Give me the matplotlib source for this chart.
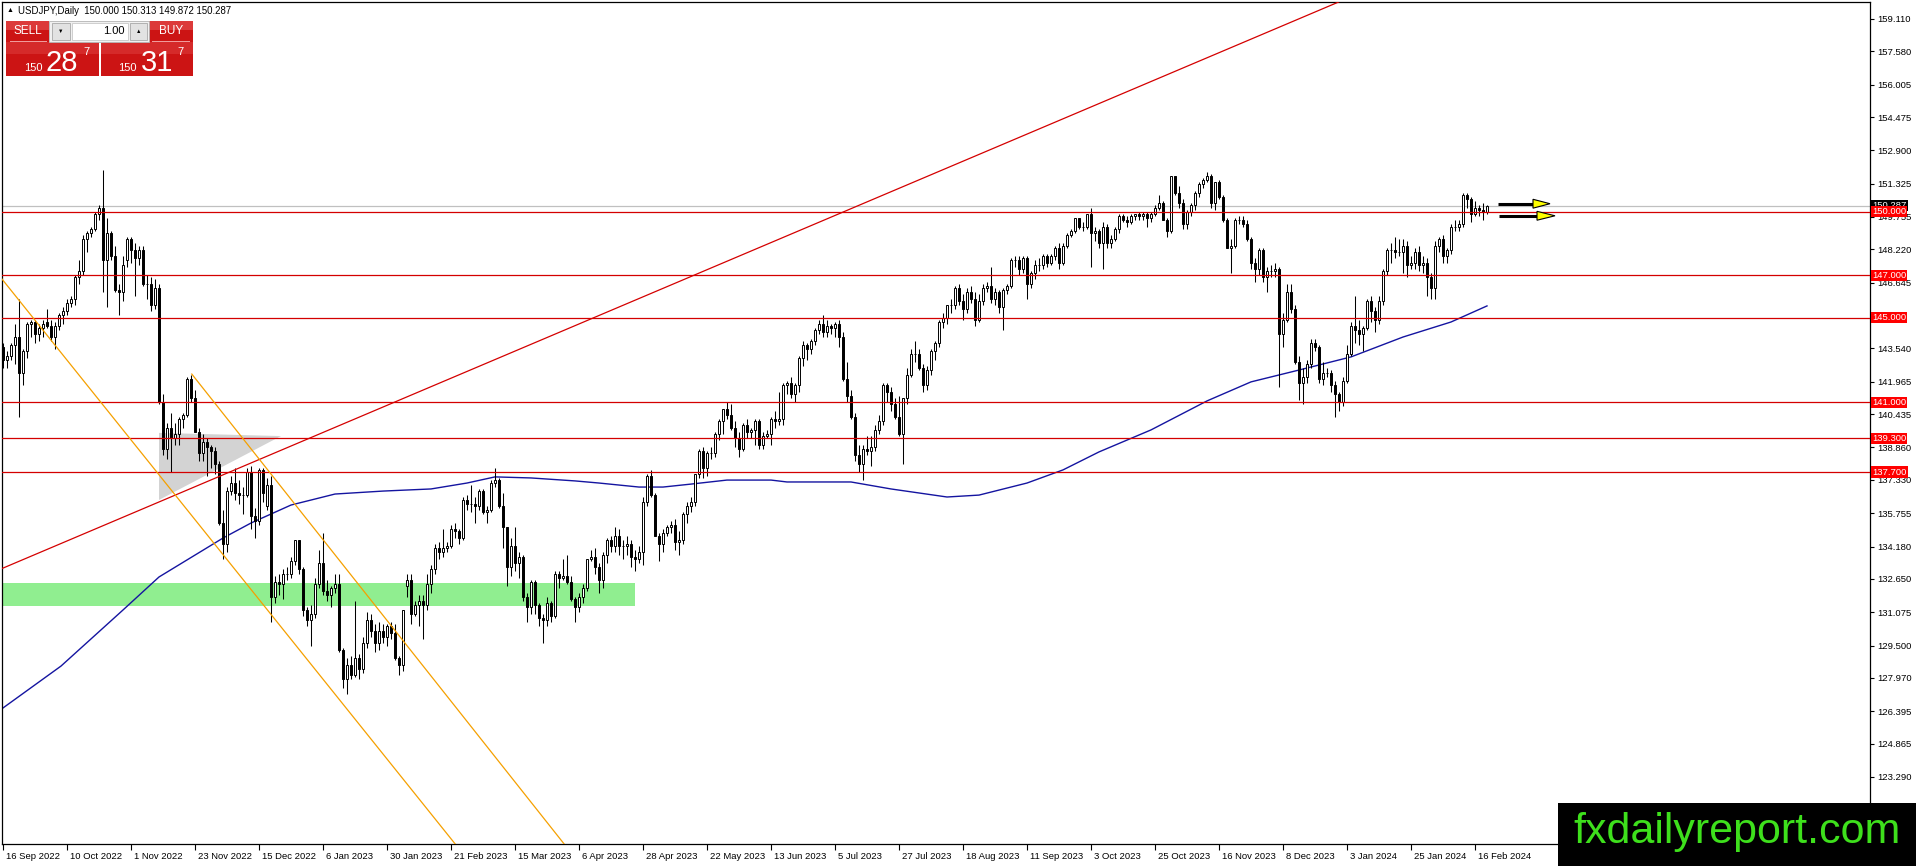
import matplotlib
matplotlib.use("Agg")
import matplotlib.pyplot as plt
from matplotlib.patches import Rectangle, Polygon
import matplotlib.transforms as mtransforms

plt.rcParams['font.family'] = ['Liberation Sans', 'DejaVu Sans']

# ---------------- data ----------------
# USDJPY daily candles, 16 Sep 2022 .. 21 Feb 2024 (bar index 0..371)
opens = [
    143.6, 143.0, 143.2, 143.7, 144.1, 142.4, 143.4, 144.7, 144.8, 144.2,
    144.5, 144.8, 144.6, 144.1, 144.6, 145.1, 145.3, 145.7, 145.9, 146.9,
    147.2, 148.7, 149.0, 149.2, 149.9, 150.2, 147.7, 149.0, 147.9, 146.3,
    146.2, 147.7, 148.7, 148.2, 147.8, 148.2, 146.6, 146.6, 145.6, 146.4,
    141.0, 138.8, 139.8, 139.3, 139.5, 140.2, 140.4, 142.1, 141.2, 139.6,
    138.6, 139.1, 138.9, 138.7, 138.1, 135.3, 134.3, 136.8, 137.2, 136.7,
    136.6, 136.6, 137.7, 135.6, 135.4, 137.8, 136.1, 137.1, 131.8, 132.5,
    132.4, 132.9, 132.9, 133.5, 134.5, 133.1, 131.2, 130.7, 131.0, 132.4,
    133.4, 132.1, 131.9, 132.2, 132.4, 129.3, 127.9, 128.6, 128.1, 128.9,
    128.4, 129.6, 130.7, 130.2, 129.6, 130.2, 129.9, 130.4, 130.1, 128.9,
    128.6, 132.3, 132.6, 131.0, 131.4, 131.6, 131.4, 132.4, 133.1, 134.1,
    133.9, 134.1, 134.2, 135.0, 134.9, 134.6, 136.4, 136.2, 136.2, 136.1,
    136.8, 135.8, 135.9, 137.2, 137.3, 136.1, 135.1, 133.2, 134.2, 133.4,
    133.7, 131.8, 131.3, 132.5, 131.4, 130.8, 130.7, 131.5, 130.9, 132.9,
    132.7, 132.8, 132.5, 131.7, 131.3, 131.8, 132.2, 133.6, 133.7, 133.2,
    132.6, 133.8, 134.5, 134.2, 134.7, 134.2, 134.2, 134.3, 133.7, 133.6,
    133.9, 136.3, 137.5, 136.6, 134.7, 134.3, 134.8, 135.1, 135.2, 134.4,
    134.5, 135.7, 136.1, 136.3, 137.6, 138.7, 137.9, 138.6, 138.6, 139.5,
    140.1, 140.7, 140.4, 139.8, 139.3, 138.8, 139.9, 139.6, 139.7, 140.1,
    139.0, 139.4, 139.5, 140.2, 140.1, 140.2, 141.8, 141.9, 141.4, 141.8,
    143.1, 143.7, 143.5, 143.9, 144.4, 144.7, 144.3, 144.6, 144.5, 144.7,
    144.1, 142.1, 141.3, 140.3, 138.5, 138.1, 138.8, 138.7, 138.9, 139.7,
    140.1, 141.8, 141.5, 140.9, 140.3, 139.5, 141.2, 142.3, 143.3, 143.3,
    142.6, 141.8, 142.5, 143.4, 143.8, 144.8, 145.0, 145.6, 145.6, 146.4,
    145.8, 145.4, 146.2, 145.9, 144.9, 145.8, 146.4, 146.5, 145.9, 146.2,
    145.5, 146.3, 146.5, 147.7, 147.7, 147.3, 147.8, 146.6, 147.1, 147.5,
    147.5, 147.9, 147.6, 147.9, 148.3, 147.6, 148.4, 148.9, 149.1, 149.7,
    149.3, 149.3, 149.9, 149.0, 149.1, 148.5, 149.3, 148.5, 148.7, 149.2,
    149.8, 149.6, 149.5, 149.8, 149.9, 149.8, 149.9, 149.7, 149.9, 150.2,
    150.4, 149.6, 149.1, 151.7, 150.9, 150.4, 149.4, 150.0, 150.3, 150.9,
    151.3, 151.5, 151.7, 150.4, 151.4, 150.7, 149.6, 148.3, 148.4, 149.6,
    149.6, 149.4, 148.7, 147.6, 147.3, 148.2, 146.9, 147.2, 147.2, 147.3,
    144.2, 144.9, 146.2, 145.4, 142.9, 141.9, 142.2, 142.8, 143.8, 143.6,
    142.1, 142.4, 142.4, 141.8, 141.4, 141.0, 142.0, 143.3, 144.6, 144.4,
    144.2, 144.5, 145.8, 145.3, 144.9, 145.8, 147.2, 148.2, 148.2, 148.1,
    148.1, 148.4, 147.5, 147.6, 148.1, 147.5, 147.6, 146.9, 146.4, 148.4,
    148.7, 147.9, 148.2, 149.3, 149.3, 149.4, 150.8, 150.6, 149.9, 150.2,
    150.1, 150.0,
]
highs = [
    143.8, 143.4, 143.8, 144.7, 145.9, 143.5, 144.8, 144.9, 144.9, 144.7,
    144.9, 145.4, 144.9, 144.8, 145.2, 145.5, 145.9, 146.0, 147.0, 147.7,
    148.9, 149.1, 149.3, 150.0, 150.3, 151.95, 149.7, 149.1, 148.4, 146.6,
    147.9, 148.8, 148.8, 148.5, 148.4, 148.4, 147.0, 146.9, 146.8, 146.6,
    141.4, 140.0, 140.5, 140.0, 140.3, 140.5, 142.2, 142.3, 141.6, 139.8,
    139.5, 139.3, 139.0, 138.9, 138.2, 135.9, 137.0, 137.5, 137.9, 137.3,
    137.0, 137.9, 138.0, 136.0, 137.9, 137.9, 137.4, 137.5, 132.8, 132.9,
    133.1, 133.2, 133.7, 134.5, 134.5, 133.2, 131.3, 131.4, 132.7, 134.0,
    134.8, 132.6, 132.3, 132.9, 132.9, 129.4, 128.9, 129.0, 131.6, 129.1,
    129.9, 131.1, 131.0, 130.5, 130.6, 130.5, 130.5, 130.6, 130.5, 129.0,
    131.2, 132.9, 132.9, 131.6, 131.9, 131.9, 132.9, 133.3, 134.3, 134.4,
    135.0, 134.4, 135.2, 135.3, 135.0, 136.5, 136.6, 137.1, 136.5, 136.9,
    136.9, 136.1, 137.3, 137.9, 137.4, 136.7, 135.1, 134.6, 135.1, 133.9,
    133.8, 132.0, 132.6, 132.6, 131.5, 131.0, 131.8, 131.6, 133.0, 133.0,
    133.6, 133.8, 132.8, 131.8, 132.0, 132.4, 133.6, 134.0, 134.1, 133.4,
    133.9, 134.6, 134.7, 135.1, 135.0, 134.5, 134.7, 134.5, 134.0, 134.2,
    136.5, 137.6, 137.8, 136.7, 134.8, 135.0, 135.2, 135.4, 135.5, 134.9,
    135.8, 136.3, 136.5, 137.6, 138.8, 138.9, 138.7, 138.9, 139.6, 140.2,
    140.7, 141.0, 140.9, 140.1, 139.6, 140.0, 140.2, 139.8, 140.2, 140.2,
    139.6, 139.7, 140.3, 140.6, 141.5, 141.9, 142.0, 142.2, 141.9, 143.2,
    143.9, 143.8, 144.0, 144.5, 144.9, 145.1, 144.9, 144.7, 144.8, 144.9,
    144.3, 142.9, 141.6, 140.5, 139.0, 139.0, 139.4, 139.4, 139.9, 140.4,
    141.9, 141.9, 141.7, 141.2, 141.3, 141.2, 142.6, 143.5, 143.9, 143.5,
    142.8, 142.7, 143.5, 143.9, 144.9, 145.2, 145.6, 145.9, 146.5, 146.6,
    146.1, 146.4, 146.5, 146.2, 146.1, 146.6, 146.7, 147.4, 146.4, 146.3,
    146.4, 146.6, 147.8, 147.9, 147.9, 147.9, 147.9, 147.2, 147.7, 147.8,
    148.0, 148.0, 148.0, 148.4, 148.5, 148.5, 149.0, 149.2, 149.7, 149.7,
    149.5, 149.9, 150.2, 149.3, 149.2, 149.5, 149.4, 148.9, 149.3, 149.9,
    149.9, 149.8, 149.9, 149.9, 150.0, 150.0, 150.0, 150.0, 150.3, 150.8,
    150.5, 149.7, 151.7, 151.7, 151.2, 150.6, 150.1, 150.4, 151.0, 151.4,
    151.6, 151.9, 151.8, 151.4, 151.5, 150.8, 149.7, 148.7, 149.7, 149.8,
    149.8, 149.6, 148.8, 147.8, 148.3, 148.3, 147.4, 147.5, 147.6, 147.4,
    145.2, 146.6, 146.6, 145.6, 143.2, 142.6, 143.0, 144.0, 144.0, 143.7,
    142.9, 142.6, 142.5, 142.0, 141.5, 142.2, 143.7, 144.8, 146.0, 144.9,
    144.6, 145.9, 146.0, 145.5, 146.0, 147.3, 148.3, 148.5, 148.8, 148.7,
    148.7, 148.6, 147.9, 148.3, 148.4, 147.9, 147.8, 147.1, 148.6, 148.8,
    148.9, 148.3, 149.4, 149.6, 149.6, 150.9, 150.9, 150.7, 150.5, 150.3,
    150.4, 150.313,
]
lows = [
    142.6, 142.6, 143.0, 142.8, 140.3, 141.8, 143.1, 144.1, 143.8, 143.9,
    144.1, 144.5, 143.9, 143.5, 144.4, 144.7, 145.1, 145.5, 145.6, 146.6,
    147.0, 148.1, 148.8, 149.1, 149.6, 146.2, 145.5, 147.7, 146.2, 145.1,
    145.8, 147.4, 147.6, 146.0, 147.5, 146.5, 145.9, 145.3, 145.4, 140.9,
    138.5, 138.3, 137.7, 139.0, 139.0, 139.8, 140.3, 141.0, 139.6, 138.2,
    138.2, 137.5, 137.9, 137.6, 135.2, 133.6, 133.9, 136.6, 136.4, 136.2,
    135.7, 136.5, 135.0, 134.6, 135.2, 136.3, 135.9, 130.6, 131.5, 131.9,
    131.7, 132.6, 132.7, 133.3, 132.9, 130.9, 130.4, 129.5, 130.8, 132.2,
    131.9, 131.6, 131.3, 132.0, 129.2, 127.5, 127.2, 127.9, 128.0, 127.9,
    128.2, 129.4, 129.9, 129.2, 129.3, 129.6, 129.5, 129.8, 128.8, 128.1,
    128.3, 131.8, 130.5, 130.9, 130.4, 129.8, 131.2, 132.0, 132.9, 133.6,
    133.7, 133.9, 134.1, 134.6, 134.3, 134.5, 135.9, 135.8, 135.3, 135.9,
    135.7, 135.3, 135.8, 137.0, 136.0, 134.1, 132.3, 132.8, 133.0, 132.7,
    131.6, 130.6, 131.0, 131.0, 130.4, 129.6, 130.4, 130.6, 130.8, 132.2,
    132.6, 132.4, 131.6, 130.6, 131.1, 131.5, 132.1, 133.5, 132.9, 132.0,
    132.2, 133.4, 133.9, 133.9, 133.8, 133.6, 133.8, 133.2, 133.0, 133.4,
    133.3, 136.1, 136.5, 134.7, 133.5, 133.9, 134.7, 134.8, 134.0, 133.8,
    134.3, 135.3, 135.8, 136.1, 137.4, 137.4, 137.5, 138.3, 138.4, 139.2,
    139.5, 140.2, 139.7, 138.9, 138.4, 138.7, 139.3, 139.3, 139.0, 138.8,
    138.8, 139.3, 139.0, 139.8, 139.9, 139.9, 141.4, 141.2, 141.0, 141.5,
    142.7, 143.0, 143.3, 143.7, 144.2, 144.1, 144.1, 144.2, 144.1, 143.6,
    142.0, 141.0, 140.2, 138.2, 137.7, 137.3, 138.5, 138.0, 138.7, 139.5,
    139.9, 141.0, 140.6, 140.2, 139.4, 138.1, 140.9, 142.2, 142.9, 142.5,
    141.5, 141.6, 142.3, 143.0, 143.6, 144.5, 144.7, 145.2, 145.4, 145.6,
    144.9, 145.2, 145.7, 144.6, 144.8, 145.6, 146.2, 145.7, 145.6, 145.2,
    144.4, 146.1, 146.4, 147.4, 147.0, 147.1, 145.9, 146.4, 146.8, 147.2,
    147.3, 147.4, 147.5, 147.7, 147.3, 147.5, 148.3, 148.8, 149.0, 149.2,
    149.1, 149.2, 147.4, 148.6, 148.3, 147.3, 148.3, 148.3, 148.6, 149.0,
    149.5, 149.3, 149.4, 149.6, 149.6, 149.6, 149.3, 149.5, 149.8, 150.1,
    149.6, 148.8, 149.0, 150.8, 150.2, 149.2, 149.2, 149.8, 150.1, 150.7,
    151.1, 151.4, 150.2, 150.1, 150.6, 149.5, 148.3, 147.1, 148.3, 149.4,
    149.3, 148.6, 147.3, 146.7, 147.0, 146.7, 146.2, 146.9, 146.9, 141.7,
    143.6, 144.8, 145.2, 142.8, 141.1, 140.9, 141.9, 142.6, 143.4, 141.9,
    141.8, 142.2, 141.5, 140.3, 140.6, 140.8, 141.9, 143.2, 143.8, 143.7,
    143.4, 144.4, 144.8, 144.3, 144.7, 145.6, 147.0, 147.6, 147.8, 147.9,
    147.1, 146.9, 147.3, 147.3, 147.2, 147.1, 146.0, 145.9, 145.9, 148.1,
    147.6, 147.6, 148.0, 149.1, 149.1, 149.3, 150.2, 149.5, 149.8, 149.8,
    149.6, 149.872,
]
closes = [
    143.0, 143.2, 143.7, 144.1, 142.4, 143.4, 144.7, 144.8, 144.2, 144.5,
    144.7, 144.6, 144.1, 144.6, 145.1, 145.3, 145.7, 145.9, 146.9, 147.2,
    148.7, 149.0, 149.2, 149.9, 150.2, 147.7, 149.0, 147.9, 146.3, 146.2,
    147.5, 148.7, 148.2, 147.8, 148.2, 146.6, 146.6, 145.6, 146.4, 141.0,
    138.8, 139.8, 139.3, 139.5, 140.2, 140.4, 142.1, 141.2, 139.6, 138.6,
    139.1, 138.9, 138.7, 138.1, 135.3, 134.3, 136.8, 137.2, 136.7, 136.6,
    136.6, 137.7, 135.6, 135.4, 137.8, 136.7, 137.1, 131.8, 132.5, 132.4,
    132.9, 132.9, 133.5, 134.5, 133.1, 131.2, 130.7, 131.0, 132.4, 133.4,
    132.1, 131.9, 132.2, 132.4, 129.3, 127.9, 128.6, 128.1, 128.9, 128.4,
    129.6, 130.7, 130.2, 129.6, 130.2, 129.9, 130.4, 130.1, 128.9, 128.6,
    131.2, 132.6, 131.0, 131.4, 131.6, 131.4, 132.4, 133.1, 134.1, 133.9,
    134.1, 134.2, 135.0, 134.9, 134.6, 136.4, 136.2, 136.2, 136.1, 136.8,
    135.8, 135.9, 137.2, 137.3, 136.1, 135.1, 133.2, 134.2, 133.4, 133.7,
    131.8, 131.3, 132.5, 131.4, 130.8, 130.7, 131.5, 130.9, 132.9, 132.7,
    132.8, 132.5, 131.7, 131.3, 131.8, 132.2, 133.6, 133.7, 133.2, 132.6,
    133.8, 134.5, 134.2, 134.7, 134.2, 134.2, 134.3, 133.7, 133.6, 133.9,
    136.3, 137.5, 136.6, 134.7, 134.3, 134.8, 135.1, 135.2, 134.4, 134.5,
    135.7, 136.1, 136.3, 137.6, 138.7, 137.9, 138.6, 138.6, 139.5, 140.1,
    140.7, 140.4, 139.8, 139.3, 138.8, 139.9, 139.6, 139.7, 140.1, 139.0,
    139.4, 139.5, 140.2, 140.1, 140.2, 141.8, 141.9, 141.4, 141.8, 143.1,
    143.7, 143.5, 143.9, 144.4, 144.7, 144.3, 144.6, 144.5, 144.7, 144.1,
    142.1, 141.3, 140.3, 138.5, 138.1, 138.8, 138.7, 138.9, 139.7, 140.1,
    141.8, 141.5, 140.9, 140.3, 139.5, 141.2, 142.3, 143.3, 143.3, 142.6,
    141.8, 142.5, 143.4, 143.8, 144.8, 145.0, 145.6, 145.6, 146.4, 145.8,
    145.4, 146.2, 145.9, 144.9, 145.8, 146.4, 146.5, 145.9, 146.2, 145.5,
    146.3, 146.5, 147.7, 147.7, 147.3, 147.8, 146.6, 147.1, 147.5, 147.5,
    147.9, 147.6, 147.9, 148.3, 147.6, 148.4, 148.9, 149.1, 149.7, 149.3,
    149.3, 149.9, 149.0, 149.1, 148.5, 149.3, 148.5, 148.7, 149.2, 149.8,
    149.6, 149.5, 149.8, 149.9, 149.8, 149.9, 149.7, 149.9, 150.2, 150.4,
    149.6, 149.1, 151.7, 150.9, 150.4, 149.4, 150.0, 150.3, 150.9, 151.3,
    151.5, 151.7, 150.4, 151.4, 150.7, 149.6, 148.3, 148.4, 149.6, 149.6,
    149.4, 148.7, 147.6, 147.3, 148.2, 146.9, 147.2, 147.2, 147.3, 144.2,
    144.9, 146.2, 145.4, 142.9, 141.9, 142.2, 142.8, 143.8, 143.6, 142.1,
    142.4, 142.4, 141.8, 141.4, 141.0, 142.0, 143.3, 144.6, 144.4, 144.2,
    144.5, 145.8, 145.3, 144.9, 145.8, 147.2, 148.2, 148.2, 148.1, 148.1,
    148.4, 147.5, 147.6, 148.1, 147.5, 147.6, 146.9, 146.4, 148.4, 148.7,
    147.9, 148.2, 149.3, 149.3, 149.4, 150.8, 150.6, 149.9, 150.2, 150.1,
    150.0, 150.287,
]

# moving average (blue) sampled along its path: bar index / price
ma_idx = [0, 14.5, 30, 39, 55, 62, 72, 83, 95, 107, 116, 123, 132, 143, 149,
          159, 165, 172, 181, 192, 196, 212, 222, 236, 244, 256, 265, 274,
          287, 301, 312, 324, 337, 350, 362, 371]
ma_val = [126.55, 128.53, 131.18, 132.74, 134.58, 135.29, 136.14, 136.66,
          136.80, 136.90, 137.18, 137.47, 137.42, 137.28, 137.18, 136.99,
          136.99, 137.13, 137.32, 137.32, 137.23, 137.23, 136.90, 136.52,
          136.61, 137.18, 137.80, 138.65, 139.69, 141.06, 141.96, 142.52,
          143.14, 144.08, 144.79, 145.55]

date_pos = [0, 16, 32, 48, 64, 80, 96, 112, 128, 144, 160, 176,
            192, 208, 224, 240, 256, 272, 288, 304, 320, 336, 352, 368]
date_labels = ['16 Sep 2022', '10 Oct 2022', '1 Nov 2022', '23 Nov 2022',
               '15 Dec 2022', '6 Jan 2023', '30 Jan 2023', '21 Feb 2023',
               '15 Mar 2023', '6 Apr 2023', '28 Apr 2023', '22 May 2023',
               '13 Jun 2023', '5 Jul 2023', '27 Jul 2023', '18 Aug 2023',
               '11 Sep 2023', '3 Oct 2023', '25 Oct 2023', '16 Nov 2023',
               '8 Dec 2023', '3 Jan 2024', '25 Jan 2024', '16 Feb 2024']

price_ticks = [159.110, 157.580, 156.005, 154.475, 152.900, 151.325, 149.755,
               148.220, 146.645, 145.070, 143.540, 141.965, 140.435, 138.860,
               137.330, 135.755, 134.180, 132.650, 131.075, 129.500, 127.970,
               126.395, 124.865, 123.290]
# tick label that sits fully under a level box in the screenshot
hidden_tick = 145.070

levels = [150.000, 147.000, 145.000, 141.000, 139.300, 137.700]
last_price = 150.287
header = 'USDJPY,Daily  150.000 150.313 149.872 150.287'

# chart objects (anchor points: bar index, price)
trend_a, trend_b = (0, 133.16), (332, 159.76)
chan1_a, chan1_b = (0, 146.76), (55, 133.80)
chan2_a, chan2_b = (47.2, 142.33), (111.75, 126.93)
tri_pts = [(39, 139.55), (39, 136.38), (69.5, 139.40)]
zone_x = (-1, 158)
zone_y = (131.37, 132.46)
arrows = [(373.75, 382.5, 386.75, 150.38), (374.0, 383.5, 388.0, 149.81)]
arrow_half = 0.21

RED = '#d40000'

# ---------------- figure ----------------
W, H = 1916, 866
fig = plt.figure(figsize=(W / 100, H / 100), dpi=100)
fig.patch.set_facecolor('white')
ax = fig.add_axes([2 / W, 22 / H, 1868 / W, 842 / H])
ax.set_xlim(-0.25, 466.75)
ax.set_ylim(120.121, 159.913)

# background objects
ax.add_patch(Rectangle((zone_x[0], zone_y[0]), zone_x[1] - zone_x[0],
                       zone_y[1] - zone_y[0], fc='#90ee90', ec='none', zorder=1))
ax.add_patch(Polygon(tri_pts, closed=True, fc='#d3d3d3', ec='none', zorder=1))
ax.axhline(last_price, color='#c0c0c0', lw=0.9, zorder=1.5)

# moving average
ax.plot(ma_idx, ma_val, color='#1414a0', lw=1.0, zorder=2)

# candles
xs = list(range(len(closes)))
ax.vlines(xs, lows, highs, color='black', lw=0.75, zorder=3)
bottoms = [min(o, c) for o, c in zip(opens, closes)]
heights = [abs(c - o) for o, c in zip(opens, closes)]
faces = ['white' if c >= o else 'black' for o, c in zip(opens, closes)]
ax.bar(xs, heights, bottom=bottoms, width=0.55, color=faces,
       edgecolor='black', linewidth=0.7, zorder=4)

# lines
for lv in levels:
    ax.axhline(lv, color=RED, lw=0.9, zorder=5)
ax.axline(trend_a, trend_b, color=RED, lw=0.9, zorder=5)
ax.axline(chan1_a, chan1_b, color='#f5a000', lw=0.9, zorder=5)
slope2 = (chan2_b[1] - chan2_a[1]) / (chan2_b[0] - chan2_a[0])
ax.plot([chan2_a[0], 300], [chan2_a[1], chan2_a[1] + slope2 * (300 - chan2_a[0])],
        color='#f5a000', lw=0.9, zorder=5)

# arrows
for x0, xh, xt, py in arrows:
    ax.plot([x0, xh], [py, py], color='black', lw=2.2, zorder=6,
            solid_capstyle='butt')
    ax.add_patch(Polygon([(xh, py + arrow_half), (xh, py - arrow_half), (xt, py)],
                         closed=True, fc='#ffff00', ec='black', lw=0.8, zorder=7))

# axes styling
for sp in ax.spines.values():
    sp.set_color('black')
    sp.set_linewidth(0.9)
ax.yaxis.tick_right()
ax.set_yticks(price_ticks)
ax.set_yticklabels(['' if v == hidden_tick else '%.3f' % v for v in price_ticks])
ax.tick_params(axis='y', length=3, width=0.8, pad=2, labelsize=6.8, colors='black')
ax.set_xticks(date_pos)
ax.set_xticklabels(date_labels)
ax.tick_params(axis='x', length=4, width=0.8, pad=2, labelsize=6.8)
shift = mtransforms.ScaledTranslation(2 / 72, 0, fig.dpi_scale_trans)
for lab in ax.get_xticklabels():
    lab.set_horizontalalignment('left')
    lab.set_transform(lab.get_transform() + shift)

# price labels on the right axis
ytrans = ax.get_yaxis_transform()
ax.text(1 + 2 / 1868, last_price, '%.3f' % last_price, transform=ytrans,
        ha='left', va='center', color='white', fontsize=6.8, clip_on=False,
        zorder=9, bbox=dict(boxstyle='square,pad=0.12', fc='black', ec='none'))
for lv in levels:
    ax.text(1 + 2 / 1868, lv, '%.3f' % lv, transform=ytrans, ha='left',
            va='center', color='white', fontsize=6.8, clip_on=False, zorder=10,
            bbox=dict(boxstyle='square,pad=0.12', fc='#ff0000', ec='none'))

# ---------------- overlay: header, trade panel, logo ----------------
ov = fig.add_axes([0, 0, 1, 1])
ov.set_xlim(0, W)
ov.set_ylim(H, 0)
ov.axis('off')
ov.patch.set_alpha(0)

ov.text(7, 11, '▲', fontsize=5, ha='left', va='center', color='black')
ov.text(18, 11, header, fontsize=6.9, ha='left', va='center', color='black')

red_btn = '#cc1414'
ov.add_patch(Rectangle((6, 21), 43, 21, fc=red_btn, ec='none'))
ov.add_patch(Rectangle((149, 21), 44, 21, fc=red_btn, ec='none'))
ov.add_patch(Rectangle((6, 42), 93, 34, fc=red_btn, ec='none'))
ov.add_patch(Rectangle((101, 42), 92, 34, fc=red_btn, ec='none'))
ov.add_patch(Rectangle((6, 21), 43, 9, fc='#dc3a3a', ec='none'))
ov.add_patch(Rectangle((149, 21), 44, 9, fc='#dc3a3a', ec='none'))
ov.add_patch(Rectangle((6, 42), 93, 12, fc='#d52a2a', ec='none'))
ov.add_patch(Rectangle((101, 42), 92, 12, fc='#d52a2a', ec='none'))
ov.add_patch(Rectangle((49, 21), 100, 21, fc='#f0f0f0', ec='#b4b4b4', lw=0.6))
ov.add_patch(Rectangle((52, 23), 18, 17, fc='#e2e2e2', ec='#a8a8a8', lw=0.6))
ov.add_patch(Rectangle((72, 23), 56, 17, fc='white', ec='#c8c8c8', lw=0.6))
ov.add_patch(Rectangle((130, 23), 17, 17, fc='#e2e2e2', ec='#a8a8a8', lw=0.6))
ov.text(61, 31.5, '▼', fontsize=4, ha='center', va='center', color='black')
ov.text(138.5, 31.5, '▲', fontsize=4, ha='center', va='center', color='black')
ov.text(125, 31.5, '1.00', fontsize=8, ha='right', va='center', color='black')
ov.text(27.5, 31.5, 'SELL', fontsize=8.5, ha='center', va='center', color='white')
ov.text(171, 31.5, 'BUY', fontsize=8.5, ha='center', va='center', color='white')
ov.plot([10, 46], [41, 41], color='#f2a0a0', lw=0.7)
ov.plot([152, 189], [41, 41], color='#f2a0a0', lw=0.7)
ov.text(43, 71, '150', fontsize=8, ha='right', va='baseline', color='white')
ov.text(46, 71, '28', fontsize=21, ha='left', va='baseline', color='white')
ov.text(83, 55, '7', fontsize=8, ha='left', va='baseline', color='white')
ov.text(137, 71, '150', fontsize=8, ha='right', va='baseline', color='white')
ov.text(141, 71, '31', fontsize=21, ha='left', va='baseline', color='white')
ov.text(177, 55, '7', fontsize=8, ha='left', va='baseline', color='white')

ov.add_patch(Rectangle((1558, 803), 358, 63, fc='black', ec='none'))
ov.text(1737, 832, 'fxdailyreport.com', fontsize=31, ha='center', va='center',
        color='#3ee01c', family=['Liberation Sans'])

fig.savefig('out.png', dpi=100)
